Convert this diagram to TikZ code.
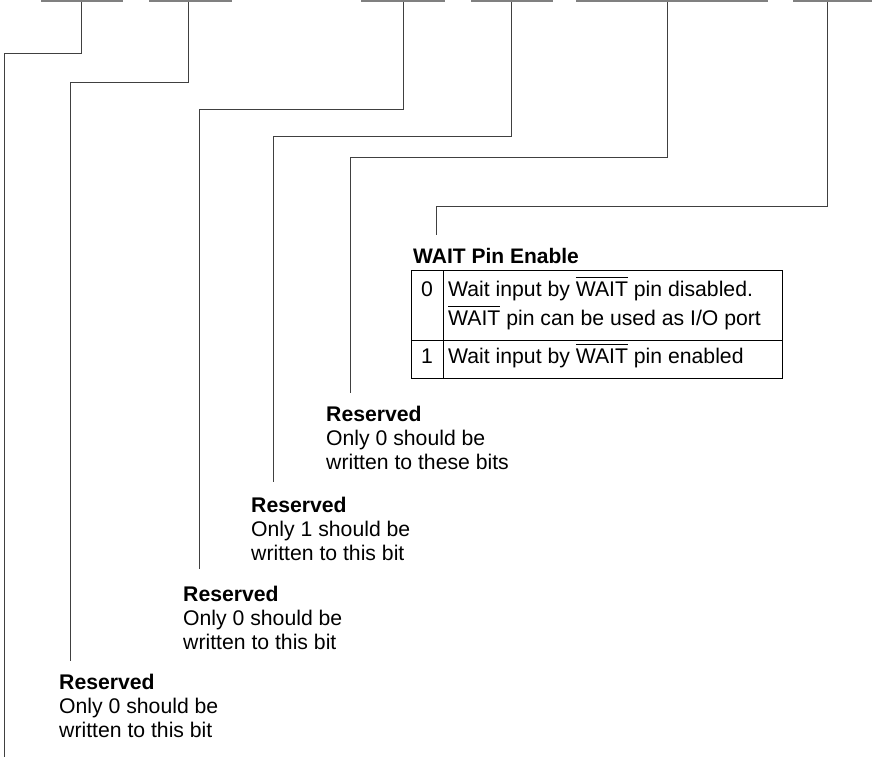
\documentclass[tikz,border=0pt]{standalone}
\usepackage{fontspec}
\setmainfont{Liberation Sans}
\newcommand\wbar[1]{\leavevmode\vbox{\hrule height 1pt\kern 3pt\hbox{#1}}}
\begin{document}
\begin{tikzpicture}[x=1pt,y=-1pt,
  bar/.style={fill=black!50, draw=none, inner sep=0pt, minimum height=2pt},
  conn/.style={draw=black!75, line width=1pt},
  lbl/.style={inner sep=0pt, anchor=base west, align=left, font=\fontsize{21.2}{24}\selectfont},
  tbl/.style={draw=black, line width=1pt}]
\useasboundingbox (0,0) rectangle (881,757);
% register field bars
\node[bar, minimum width=82pt] (b1) at (82,1) {};
\node[bar, minimum width=83pt] (b2) at (190.5,1) {};
\node[bar, minimum width=84pt] (b3) at (403,1) {};
\node[bar, minimum width=82pt] (b4) at (512,1) {};
\node[bar, minimum width=192pt] (b5) at (672,1) {};
\node[bar, minimum width=79pt] (b6) at (832.5,1) {};
% labels (anchor = baseline of the last line)
\node[lbl] (r4) at (59,737) {\textbf{Reserved}\\Only 0 should be\\written to this bit};
\node[lbl] (r3) at (183,649) {\textbf{Reserved}\\Only 0 should be\\written to this bit};
\node[lbl] (r2) at (251,560) {\textbf{Reserved}\\Only 1 should be\\written to this bit};
\node[lbl] (r1) at (326,469) {\textbf{Reserved}\\Only 0 should be\\written to these bits};
\node[lbl, font=\fontsize{21}{24}\selectfont\bfseries] (h) at (413,263) {WAIT Pin Enable};
% table
\node[tbl, anchor=north west, minimum width=371pt, minimum height=108pt, inner sep=0pt] (tb) at (411,270) {};
\draw[tbl] (443,270) -- (443,378);
\draw[tbl] (411,340) -- (782,340);
\node[lbl, anchor=base] (z0) at (427,296) {0};
\node[lbl] (t0a) at (448,296) {Wait input by \wbar{WAIT} pin disabled.};
\node[lbl] (t0b) at (448,325) {\wbar{WAIT} pin can be used as I/O port};
\node[lbl, anchor=base] (z1) at (427,363) {1};
\node[lbl] (t1) at (448,363) {Wait input by \wbar{WAIT} pin enabled};
% connector corners and ends
\coordinate (k1) at (81,54);   \coordinate (e1) at (4,757);
\coordinate (k2) at (188,83);  \coordinate (e2) at (70,661);
\coordinate (k3) at (403,110); \coordinate (e3) at (199,569);
\coordinate (k4) at (511,137); \coordinate (e4) at (273,482);
\coordinate (k5) at (667,158); \coordinate (e5) at (350,393);
\coordinate (k6) at (827,206); \coordinate (e6) at (436,235);
\draw[conn] (b1.south -| k1) -- (k1) -- (k1 -| e1) -- (e1);
\draw[conn] (b2.south -| k2) -- (k2) -- (k2 -| e2) -- (e2);
\draw[conn] (b3.south -| k3) -- (k3) -- (k3 -| e3) -- (e3);
\draw[conn] (b4.south -| k4) -- (k4) -- (k4 -| e4) -- (e4);
\draw[conn] (b5.south -| k5) -- (k5) -- (k5 -| e5) -- (e5);
\draw[conn] (b6.south -| k6) -- (k6) -- (k6 -| e6) -- (e6);
\end{tikzpicture}
\end{document}
